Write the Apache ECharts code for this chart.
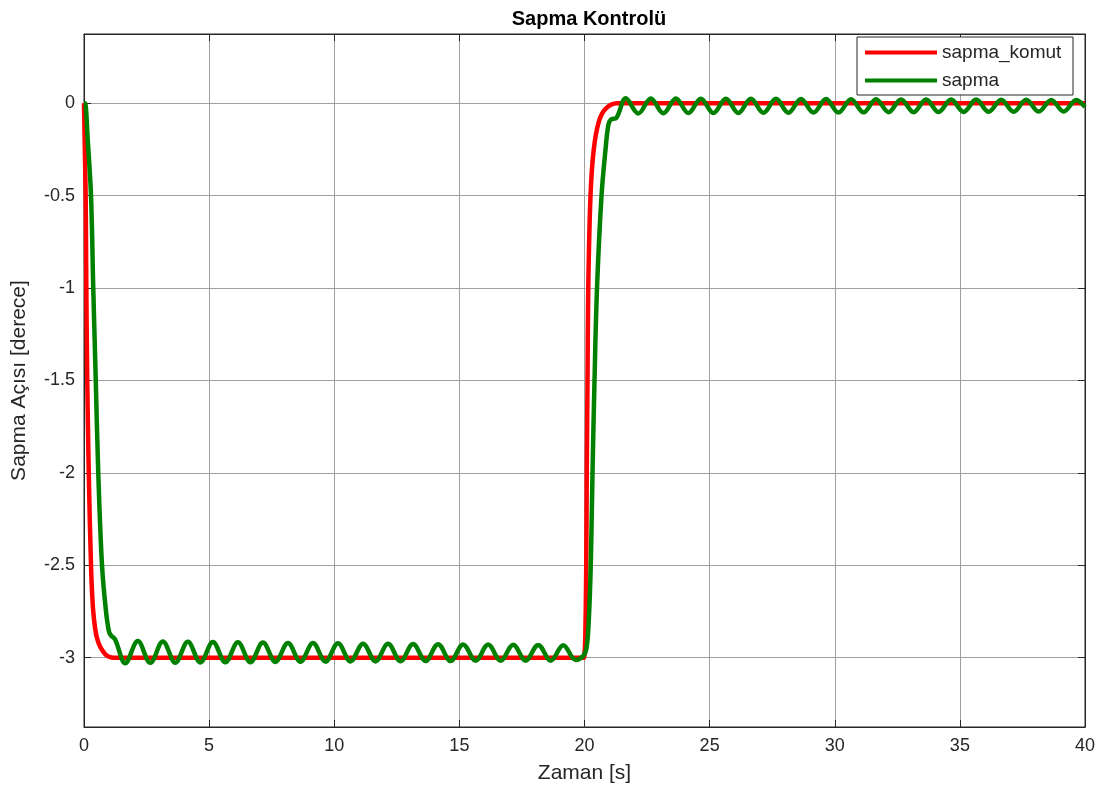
<!DOCTYPE html>
<html>
<head>
<meta charset="utf-8">
<script src="https://cdn.jsdelivr.net/npm/echarts@6/dist/echarts.min.js"></script>
<style>
  html, body { margin: 0; padding: 0; background: #fff; }
  #chart { width: 1100px; height: 795px; }
</style>
</head>
<body>
<div id="chart"></div>
<script>
// sapma_komut (command)
const komutT = [0, 0.04, 0.067, 0.093, 0.13, 0.19, 0.28, 0.37, 0.53, 0.84, 1.2, 1.6, 19.98,
  20.0, 20.03, 20.07, 20.09, 20.12, 20.15, 20.24, 20.37, 20.57, 20.84, 21.3, 40]
const komutV = [0, -0.3, -0.5, -1, -1.5, -2, -2.5, -2.75, -2.9, -2.98, -3, -3, -3,
  -2.98, -2.9, -2.5, -2, -1.5, -1, -0.5, -0.25, -0.1, -0.03, 0, 0]

// sapma (response)
const sapmaT = [0, 0.04, 0.15, 0.28, 0.37, 0.47, 0.57, 0.72, 0.88, 1.0, 1.08, 1.24,
  1.65, 2.15, 2.65, 3.15, 3.65, 4.15, 4.65, 5.15, 5.65, 6.15, 6.65, 7.15, 7.65, 8.15, 8.65,
  9.15, 9.65, 10.15, 10.65, 11.15, 11.65, 12.15, 12.65, 13.15, 13.65, 14.15, 14.65, 15.15,
  15.65, 16.15, 16.65, 17.15, 17.65, 18.15, 18.65, 19.15, 19.65,
  19.95, 20.08, 20.17, 20.25, 20.32, 20.4, 20.5, 20.68, 20.84, 20.95, 21.05, 21.28,
  21.65, 22.15, 22.65, 23.15, 23.65, 24.15, 24.65, 25.15, 25.65, 26.15, 26.65, 27.15,
  27.65, 28.15, 28.65, 29.15, 29.65, 30.15, 30.65, 31.15, 31.65, 32.15, 32.65, 33.15,
  33.65, 34.15, 34.65, 35.15, 35.65, 36.15, 36.65, 37.15, 37.65, 38.15, 38.65, 39.15,
  39.65, 40]
const sapmaV = [0, 0, -0.2, -0.5, -1, -1.5, -2, -2.5, -2.75, -2.86, -2.88, -2.9,
  -3.03, -2.91, -3.028, -2.912, -3.027, -2.914, -3.026, -2.915, -3.025, -2.917, -3.024,
  -2.918, -3.023, -2.92, -3.022, -2.921, -3.021, -2.922, -3.02, -2.924, -3.02, -2.925,
  -3.019, -2.926, -3.018, -2.927, -3.018, -2.928, -3.017, -2.929, -3.017, -2.93, -3.016,
  -2.931, -3.016, -2.932, -3.012,
  -2.99, -2.95, -2.8, -2.5, -2, -1.5, -1, -0.5, -0.25, -0.12, -0.088, -0.078,
  0.027, -0.055, 0.026, -0.054, 0.026, -0.053, 0.025, -0.053, 0.025, -0.052, 0.024, -0.051,
  0.024, -0.051, 0.023, -0.05, 0.023, -0.05, 0.022, -0.049, 0.022, -0.048, 0.021, -0.048,
  0.021, -0.047, 0.02, -0.047, 0.02, -0.046, 0.019, -0.046, 0.019, -0.045, 0.018, -0.045,
  0.018, -0.02]

const xTicks = [0, 5, 10, 15, 20, 25, 30, 35, 40]
const yTicks = [-3, -2.5, -2, -1.5, -1, -0.5, 0]

const font = 'Liberation Sans, Arial, Helvetica, sans-serif'
const ink = '#262626'

const zip = (t, v) => t.map((x, i) => [x, v[i]])

const xBase = {
  type: 'value', min: 0, max: 40, interval: 5,
  axisLine: { show: true, onZero: false, lineStyle: { color: ink, width: 1 } },
  axisTick: { show: true, inside: true, length: 7, lineStyle: { color: ink } },
  splitLine: { show: false },
  axisLabel: { show: false }
}
const yBase = {
  type: 'value', min: -3.375, max: 0.375,
  axisLine: { show: true, onZero: false, lineStyle: { color: ink, width: 1 } },
  axisTick: { show: true, inside: true, length: 7, customValues: yTicks, lineStyle: { color: ink } },
  splitLine: { show: false },
  axisLabel: { show: false }
}

const option = {
  animation: false,
  backgroundColor: '#fff',
  title: {
    text: 'Sapma Kontrolü',
    left: 584, top: 4, textAlign: 'center',
    textStyle: { fontFamily: font, fontSize: 20, fontWeight: 'bold', color: '#000' }
  },
  grid: { left: 84, right: 15, top: 34, bottom: 68, show: true, borderColor: ink, borderWidth: 1, backgroundColor: '#fff' },
  legend: {
    orient: 'vertical', left: 857, top: 37,
    padding: [6, 6, 5, 8], itemGap: 9,
    itemWidth: 72, itemHeight: 4, icon: 'rect',
    backgroundColor: '#fff', borderColor: ink, borderWidth: 1, borderRadius: 0,
    textStyle: { fontFamily: font, fontSize: 19, color: ink, lineHeight: 18, width: 125 },
    data: ['sapma_komut', 'sapma']
  },
  xAxis: [
    Object.assign({}, xBase, {
      position: 'bottom',
      name: 'Zaman [s]', nameLocation: 'middle', nameGap: 36,
      nameTextStyle: { fontFamily: font, fontSize: 21, color: ink },
      axisLabel: { show: true, margin: 10, fontFamily: font, fontSize: 18, color: ink, customValues: xTicks },
      splitLine: { show: true, lineStyle: { color: '#a0a0a0', width: 1 } }
    }),
    Object.assign({}, xBase, { position: 'top' })
  ],
  yAxis: [
    Object.assign({}, yBase, {
      position: 'left',
      name: 'Sapma Açısı [derece]', nameLocation: 'middle', nameGap: 54,
      nameTextStyle: { fontFamily: font, fontSize: 21, color: ink },
      axisLabel: { show: true, margin: 9, fontFamily: font, fontSize: 18, color: ink, customValues: yTicks },
      splitLine: { show: true, lineStyle: { color: '#a0a0a0', width: 1 } }
    }),
    Object.assign({}, yBase, { position: 'right' })
  ],
  series: [
    {
      name: 'sapma_komut', type: 'line', showSymbol: false, symbol: 'none',
      smooth: 0.3, clip: true,
      lineStyle: { color: '#ff0000', width: 4.5 }, itemStyle: { color: '#ff0000' },
      data: zip(komutT, komutV)
    },
    {
      name: 'sapma', type: 'line', showSymbol: false, symbol: 'none',
      smooth: 0.36, clip: true,
      lineStyle: { color: '#008000', width: 4.5 }, itemStyle: { color: '#008000' },
      data: zip(sapmaT, sapmaV)
    }
  ]
}

echarts.init(document.getElementById('chart')).setOption(option)
</script>
</body>
</html>
